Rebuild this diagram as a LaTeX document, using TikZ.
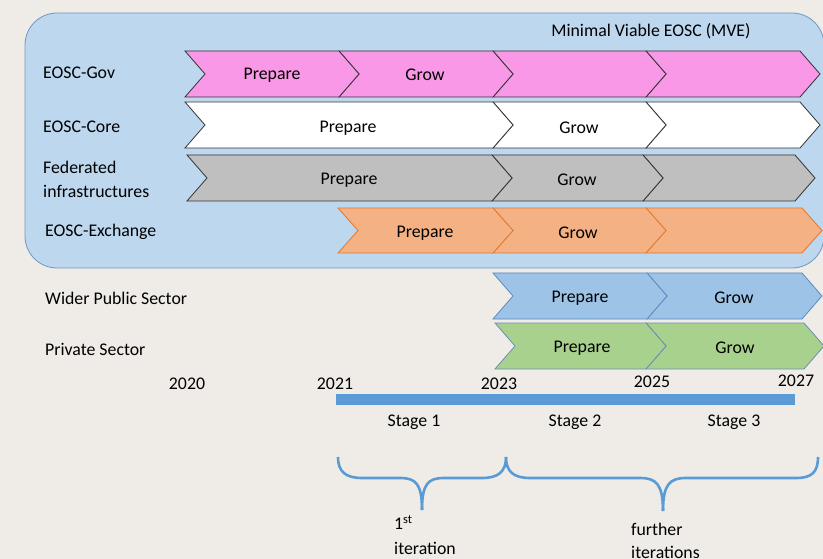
\documentclass[tikz,border=0pt]{standalone}
\usepackage{fontspec}
\setmainfont{Carlito}
\begin{document}
\begin{tikzpicture}[x=1pt,y=-1pt,
  txt/.style={font=\fontsize{17.8}{23.5}\selectfont, inner sep=0pt},
  lbl/.style={txt, anchor=west, align=left},
  brace/.style={draw=barblue, line width=2.6pt},
]
\definecolor{bgc}{HTML}{EFECE7}
\definecolor{mve}{HTML}{BDD7EE}
\definecolor{mveb}{HTML}{6E98C0}
\definecolor{pinkc}{HTML}{F898E6}
\definecolor{greyc}{HTML}{BFBFBF}
\definecolor{orangec}{HTML}{F4B183}
\definecolor{oranged}{HTML}{E07A30}
\definecolor{bluec}{HTML}{9DC3E6}
\definecolor{blued}{HTML}{5B8BC0}
\definecolor{greenc}{HTML}{A9D18E}
\definecolor{greend}{HTML}{6A8DB5}
\definecolor{barblue}{HTML}{5B9BD5}
\definecolor{darkc}{HTML}{333333}
% chevron: x1, x2, ytop, ybot, fill, draw
\newcommand{\chev}[6]{%
  \filldraw[fill=#5, draw=#6, line width=0.8pt, line join=miter]
    (#1,#3) -- (#2,#3) -- ({#2+20},{(#3+#4)/2}) -- (#2,#4) -- (#1,#4)
    -- ({#1+20},{(#3+#4)/2}) -- cycle;}
\useasboundingbox (0,0) rectangle (823,559);
\fill[bgc] (0,0) rectangle (823,559);
% MVE box
\draw[fill=mve, draw=mveb, line width=0.8pt, rounded corners=32pt] (25,13) rectangle (824,268);
\node[txt] (mvet) at (651,31) {Minimal Viable EOSC (MVE)};
% Row 1 EOSC-Gov
\chev{646}{800}{51}{97}{pinkc}{darkc}
\chev{493}{646}{51}{97}{pinkc}{darkc}
\chev{339}{493}{51}{97}{pinkc}{darkc}
\chev{185}{339}{51}{97}{pinkc}{darkc}
\node[lbl] (gov) at (43,73) {EOSC-Gov};
\node[txt] (govp) at (272,75.5) {Prepare};
\node[txt] (govg) at (425,75) {Grow};
% Row 2 EOSC-Core
\chev{646}{800}{102}{148}{white}{darkc}
\chev{493}{646}{102}{148}{white}{darkc}
\chev{185}{493}{102}{148}{white}{darkc}
\node[lbl] (core) at (43,127) {EOSC-Core};
\node[txt] (corep) at (348,128.5) {Prepare};
\node[txt] (coreg) at (579,128) {Grow};
% Row 3 Federated
\chev{643}{795}{155}{201}{greyc}{darkc}
\chev{492}{643}{155}{201}{greyc}{darkc}
\chev{187}{492}{155}{201}{greyc}{darkc}
\node[lbl, font=\fontsize{17.8}{24}\selectfont] (fed) at (43,179) {Federated\\infrastructures};
\node[txt] (fedp) at (349,180.5) {Prepare};
\node[txt] (fedg) at (577,180) {Grow};
% Row 4 Exchange
\chev{646}{802}{208}{253}{orangec}{oranged}
\chev{493}{646}{208}{253}{orangec}{oranged}
\chev{338}{493}{208}{253}{orangec}{oranged}
\node[lbl] (exch) at (45,232) {EOSC-Exchange};
\node[txt] (exchp) at (425,233.5) {Prepare};
\node[txt] (exchg) at (578,233) {Grow};
% Row 5 Wider public
\chev{647}{802}{273}{319}{bluec}{blued}
\chev{493}{647}{273}{319}{bluec}{blued}
\node[lbl] (wps) at (45,298) {Wider Public Sector};
\node[txt] (wpsp) at (580,298.5) {Prepare};
\node[txt] (wpsg) at (734,298) {Grow};
% Row 6 Private
\chev{646}{804}{323}{369}{greenc}{greend}
\chev{495}{646}{323}{369}{greenc}{greend}
\node[lbl] (ps) at (45,349) {Private Sector};
\node[txt] (psp) at (582,348.5) {Prepare};
\node[txt] (psg) at (735,348) {Grow};
% years
\node[txt] (y20) at (187,384) {2020};
\node[txt] (y21) at (335,384) {2021};
\node[txt] (y23) at (499,384) {2023};
\node[txt] (y25) at (652,382) {2025};
\node[txt] (y27) at (796,381) {2027};
% bar
\fill[barblue] (336,394) rectangle (795,405);
\node[txt] (s1) at (414,422) {Stage 1};
\node[txt] (s2) at (575,422) {Stage 2};
\node[txt] (s3) at (734,422) {Stage 3};
% braces
\draw[brace] (338,457) .. controls (338,472) and (346,478) .. (362,478) -- (400,478)
  .. controls (416,478) and (422,484) .. (422,510);
\draw[brace] (422,510) .. controls (422,484) and (428,478) .. (444,478) -- (482,478)
  .. controls (498,478) and (506,472) .. (506,457);
\draw[brace] (506,457) .. controls (506,472) and (514,478) .. (530,478) -- (640,478)
  .. controls (656,478) and (663,484) .. (663,511);
\draw[brace] (663,511) .. controls (663,484) and (670,478) .. (686,478) -- (796,478)
  .. controls (812,478) and (818,472) .. (818,457);
\node[lbl, font=\fontsize{17.8}{25}\selectfont] (it1) at (394,535) {1\textsuperscript{st}\\iteration};
\node[lbl, font=\fontsize{17.8}{23}\selectfont] (it2) at (631,541) {further\\iterations};
\end{tikzpicture}
\end{document}
